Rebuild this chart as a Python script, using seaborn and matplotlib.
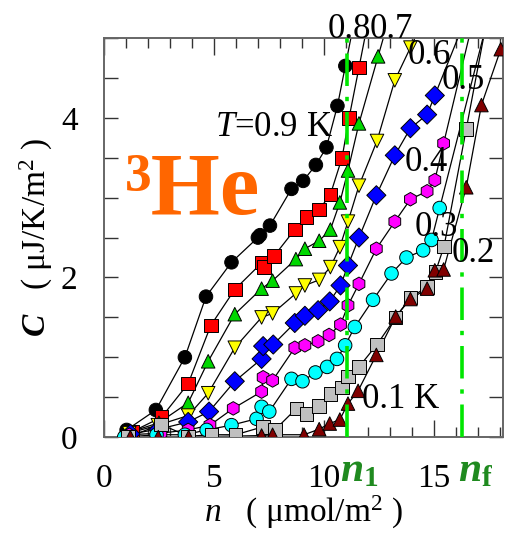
import numpy as np
import pandas as pd
import matplotlib
matplotlib.use("Agg")
import matplotlib.pyplot as plt
import seaborn as sns
from matplotlib.ticker import MultipleLocator, FixedLocator
from matplotlib.transforms import blended_transform_factory

# Heat capacity of 3He films versus areal density, one series per temperature (K)
temperatures = ["0.9", "0.8", "0.7", "0.6", "0.5", "0.4", "0.3", "0.2", "0.1"]

n_09 = [1.03, 2.36, 3.68, 4.64, 5.80, 7.00, 7.10, 7.55, 8.53, 9.06, 9.64, 10.12, 10.62, 10.98]
C_09 = [0.09, 0.34, 1.00, 1.76, 2.19, 2.50, 2.53, 2.65, 3.11, 3.21, 3.41, 3.63, 4.15, 4.65]

n_08 = [1.30, 2.62, 3.83, 4.86, 5.95, 7.20, 7.28, 7.74, 8.68, 9.21, 9.79, 10.30, 10.83, 11.15, 11.60]
C_08 = [0.07, 0.25, 0.67, 1.40, 1.85, 2.19, 2.13, 2.27, 2.60, 2.76, 2.85, 3.04, 3.50, 4.00, 4.63]

n_07 = [1.15, 2.50, 3.83, 4.74, 5.95, 7.17, 7.67, 8.73, 9.14, 9.79, 10.30, 10.73, 11.10, 11.60, 12.47]
C_07 = [0.06, 0.18, 0.43, 0.95, 1.54, 1.86, 1.96, 2.23, 2.36, 2.46, 2.60, 2.94, 3.34, 3.93, 4.77]

n_06 = [1.15, 2.45, 3.83, 4.74, 5.95, 7.17, 7.67, 8.73, 9.14, 9.79, 10.30, 10.73, 11.10, 11.60, 12.42, 13.23, 13.94]
C_06 = [0.05, 0.15, 0.27, 0.55, 1.12, 1.50, 1.55, 1.80, 1.90, 1.97, 2.13, 2.38, 2.70, 3.15, 3.71, 4.47, 4.88]

n_05 = [1.20, 2.50, 3.83, 4.78, 5.95, 7.17, 7.24, 7.70, 8.68, 9.14, 9.74, 10.27, 10.76, 11.10, 11.60,
        12.39, 13.23, 13.94, 14.70, 15.05]
C_05 = [0.04, 0.10, 0.19, 0.32, 0.70, 0.98, 1.14, 1.16, 1.43, 1.52, 1.59, 1.70, 1.90, 2.15, 2.50,
        3.03, 3.53, 3.87, 4.04, 4.28]

n_04 = [1.15, 2.59, 3.83, 4.82, 5.88, 7.17, 7.24, 7.67, 8.68, 9.14, 9.74, 10.24, 10.76, 11.10, 11.60,
        12.39, 13.23, 13.94, 14.70, 15.05, 15.45]
C_04 = [0.03, 0.05, 0.09, 0.15, 0.36, 0.57, 0.75, 0.71, 1.12, 1.15, 1.20, 1.28, 1.41, 1.65, 1.92,
        2.36, 2.70, 2.98, 3.08, 3.22, 3.68]

n_03 = [0.92, 2.39, 3.68, 4.67, 5.80, 6.94, 7.17, 7.52, 8.53, 9.03, 9.62, 10.15, 10.60, 10.97, 11.41,
        12.24, 13.08, 13.76, 14.52, 14.90, 15.27]
C_03 = [0.00, 0.03, 0.03, 0.09, 0.15, 0.23, 0.38, 0.32, 0.73, 0.70, 0.81, 0.88, 0.98, 1.15, 1.38,
        1.72, 2.05, 2.25, 2.34, 2.47, 2.87]

n_02 = [1.10, 2.59, 3.83, 4.89, 5.99, 7.24, 7.77, 8.76, 9.21, 9.79, 10.30, 10.83, 11.10, 11.60, 12.42,
        13.27, 13.94, 14.70, 15.08, 15.47, 16.48]
C_02 = [0.00, 0.16, 0.01, 0.03, 0.03, 0.13, 0.09, 0.36, 0.29, 0.39, 0.54, 0.62, 0.76, 0.88, 1.16,
        1.50, 1.75, 1.88, 2.07, 2.39, 3.86]

n_01 = [1.20, 2.47, 3.85, 7.17, 7.67, 9.10, 9.79, 10.27, 10.73, 11.10, 11.56, 12.39, 13.27, 13.94,
        14.70, 15.05, 15.45, 16.48, 17.17, 18.05]
C_01 = [0.00, 0.00, 0.00, 0.02, 0.03, 0.03, 0.10, 0.17, 0.22, 0.42, 0.58, 1.03, 1.51, 1.73,
        1.86, 2.09, 2.10, 3.13, 4.16, 4.86]

# characteristic densities: first-layer completion and film completion
n_1 = 11.05
n_f = 16.30

series_n = [n_09, n_08, n_07, n_06, n_05, n_04, n_03, n_02, n_01]
series_C = [C_09, C_08, C_07, C_06, C_05, C_04, C_03, C_02, C_01]

colors = ["#000000", "#FF0000", "#00D800", "#FFFF00", "#0000FF",
          "#FF00FF", "#00FFFF", "#C0C0C0", "#800000"]
marker_shapes = ["o", "s", "^", "v", "D", "h", "o", "s", "^"]

frames = []
for T, n_vals, C_vals in zip(temperatures, series_n, series_C):
    frames.append(pd.DataFrame({"T": T, "n": n_vals, "C": C_vals}))
df = pd.concat(frames, ignore_index=True)

# guide lines: the measured points joined, with the last segment carried on past the top
YMAX = 5.0
line_frames = []
for T, n_vals, C_vals in zip(temperatures, series_n, series_C):
    nn = list(n_vals)
    cc = list(C_vals)
    slope = (cc[-1] - cc[-2]) / (nn[-1] - nn[-2])
    nn.append(nn[-1] + (YMAX + 0.3 - cc[-1]) / slope)
    cc.append(YMAX + 0.3)
    line_frames.append(pd.DataFrame({"T": T, "n": nn, "C": cc}))
df_lines = pd.concat(line_frames, ignore_index=True)

sns.set_theme(style="ticks")
plt.rcParams["font.family"] = ["Liberation Serif", "DejaVu Serif"]
plt.rcParams["mathtext.fontset"] = "custom"
plt.rcParams["mathtext.rm"] = "Liberation Serif"
plt.rcParams["mathtext.it"] = "Liberation Serif:italic"
plt.rcParams["mathtext.bf"] = "Liberation Serif:bold"
plt.rcParams["mathtext.bfit"] = "Liberation Serif:italic:bold"
plt.rcParams["text.color"] = "black"
plt.rcParams["axes.labelcolor"] = "black"
plt.rcParams["xtick.labelcolor"] = "black"
plt.rcParams["ytick.labelcolor"] = "black"

fig = plt.figure(figsize=(5.06, 5.39), dpi=100)
ax = fig.add_axes([0.2055, 0.189, 0.7885, 0.7405])

sns.lineplot(data=df_lines, x="n", y="C", units="T", estimator=None, sort=False,
             color="black", linewidth=0.9, ax=ax, legend=False, zorder=2)

sns.scatterplot(data=df, x="n", y="C", hue="T", style="T",
                palette=dict(zip(temperatures, colors)),
                markers=dict(zip(temperatures, marker_shapes)),
                s=95, edgecolor="black", linewidth=0.7, ax=ax, legend=False, zorder=3)

green = "#00E600"
for xv in (n_1, n_f):
    ax.axvline(xv, color=green, linewidth=2.6, linestyle=(0, (9, 3, 1.2, 3)), zorder=4)

ax.set_xlim(0, 18.15)
ax.set_ylim(0, YMAX)

ax.xaxis.set_major_locator(FixedLocator([0, 5, 10, 15]))
ax.xaxis.set_minor_locator(MultipleLocator(1))
ax.yaxis.set_major_locator(FixedLocator([0, 2, 4]))
ax.yaxis.set_minor_locator(MultipleLocator(0.5))

ax.tick_params(axis="both", which="both", direction="in", top=True, right=True,
               color="#333333", width=1.0, labelsize=24, labelcolor="black")
ax.tick_params(axis="x", which="both", pad=19)
ax.tick_params(axis="y", which="both", pad=19)
ax.tick_params(axis="x", which="major", length=12)
ax.tick_params(axis="x", which="minor", length=7)
ax.tick_params(axis="y", which="both", length=10)
for sp in ax.spines.values():
    sp.set_color("#666666")
    sp.set_linewidth(1.4)

ax.set_xlabel(r"$\mathit{n}$   ( μmol/m$^2$ )", fontsize=24, labelpad=0)
ax.set_ylabel(r"$\mathbfit{C}$   ( μJ/K/m$^2$ )", fontsize=24, labelpad=4)

# temperature labels next to each curve
label_kw = dict(fontsize=25, color="black", va="baseline", ha="left", clip_on=False, zorder=5)
ax.text(10.18, 5.0, "0.8", **label_kw)
ax.text(12.09, 5.0, "0.7", **label_kw)
ax.text(13.82, 4.675, "0.6", **label_kw)
ax.text(15.36, 4.36, "0.5", **label_kw)
ax.text(13.68, 3.34, "0.4", **label_kw)
ax.text(14.14, 2.525, "0.3", **label_kw)
ax.text(15.82, 2.19, "0.2", **label_kw)
ax.text(11.73, 0.36, "0.1 K", **label_kw)
ax.text(5.05, 3.775, r"$\mathit{T}$=0.9 K", **label_kw)

ax.text(0.95, 2.8, "³He", fontsize=64, fontweight="bold", color="#FF6600",
        ha="left", va="baseline", zorder=5)

# density markers below the axis
trans = blended_transform_factory(ax.transData, ax.transAxes)
dark_green = "#1F8A1F"
ax.text(n_1 - 0.3, -0.11, r"$\mathbfit{n}_{\mathbf{1}}$", transform=trans, fontsize=30,
        color=dark_green, ha="left", va="baseline", clip_on=False)
ax.text(n_f - 0.2, -0.11, r"$\mathbfit{n}_{\mathbf{f}}$", transform=trans, fontsize=30,
        color=dark_green, ha="left", va="baseline", clip_on=False)

fig.savefig("out.png", dpi=100)
